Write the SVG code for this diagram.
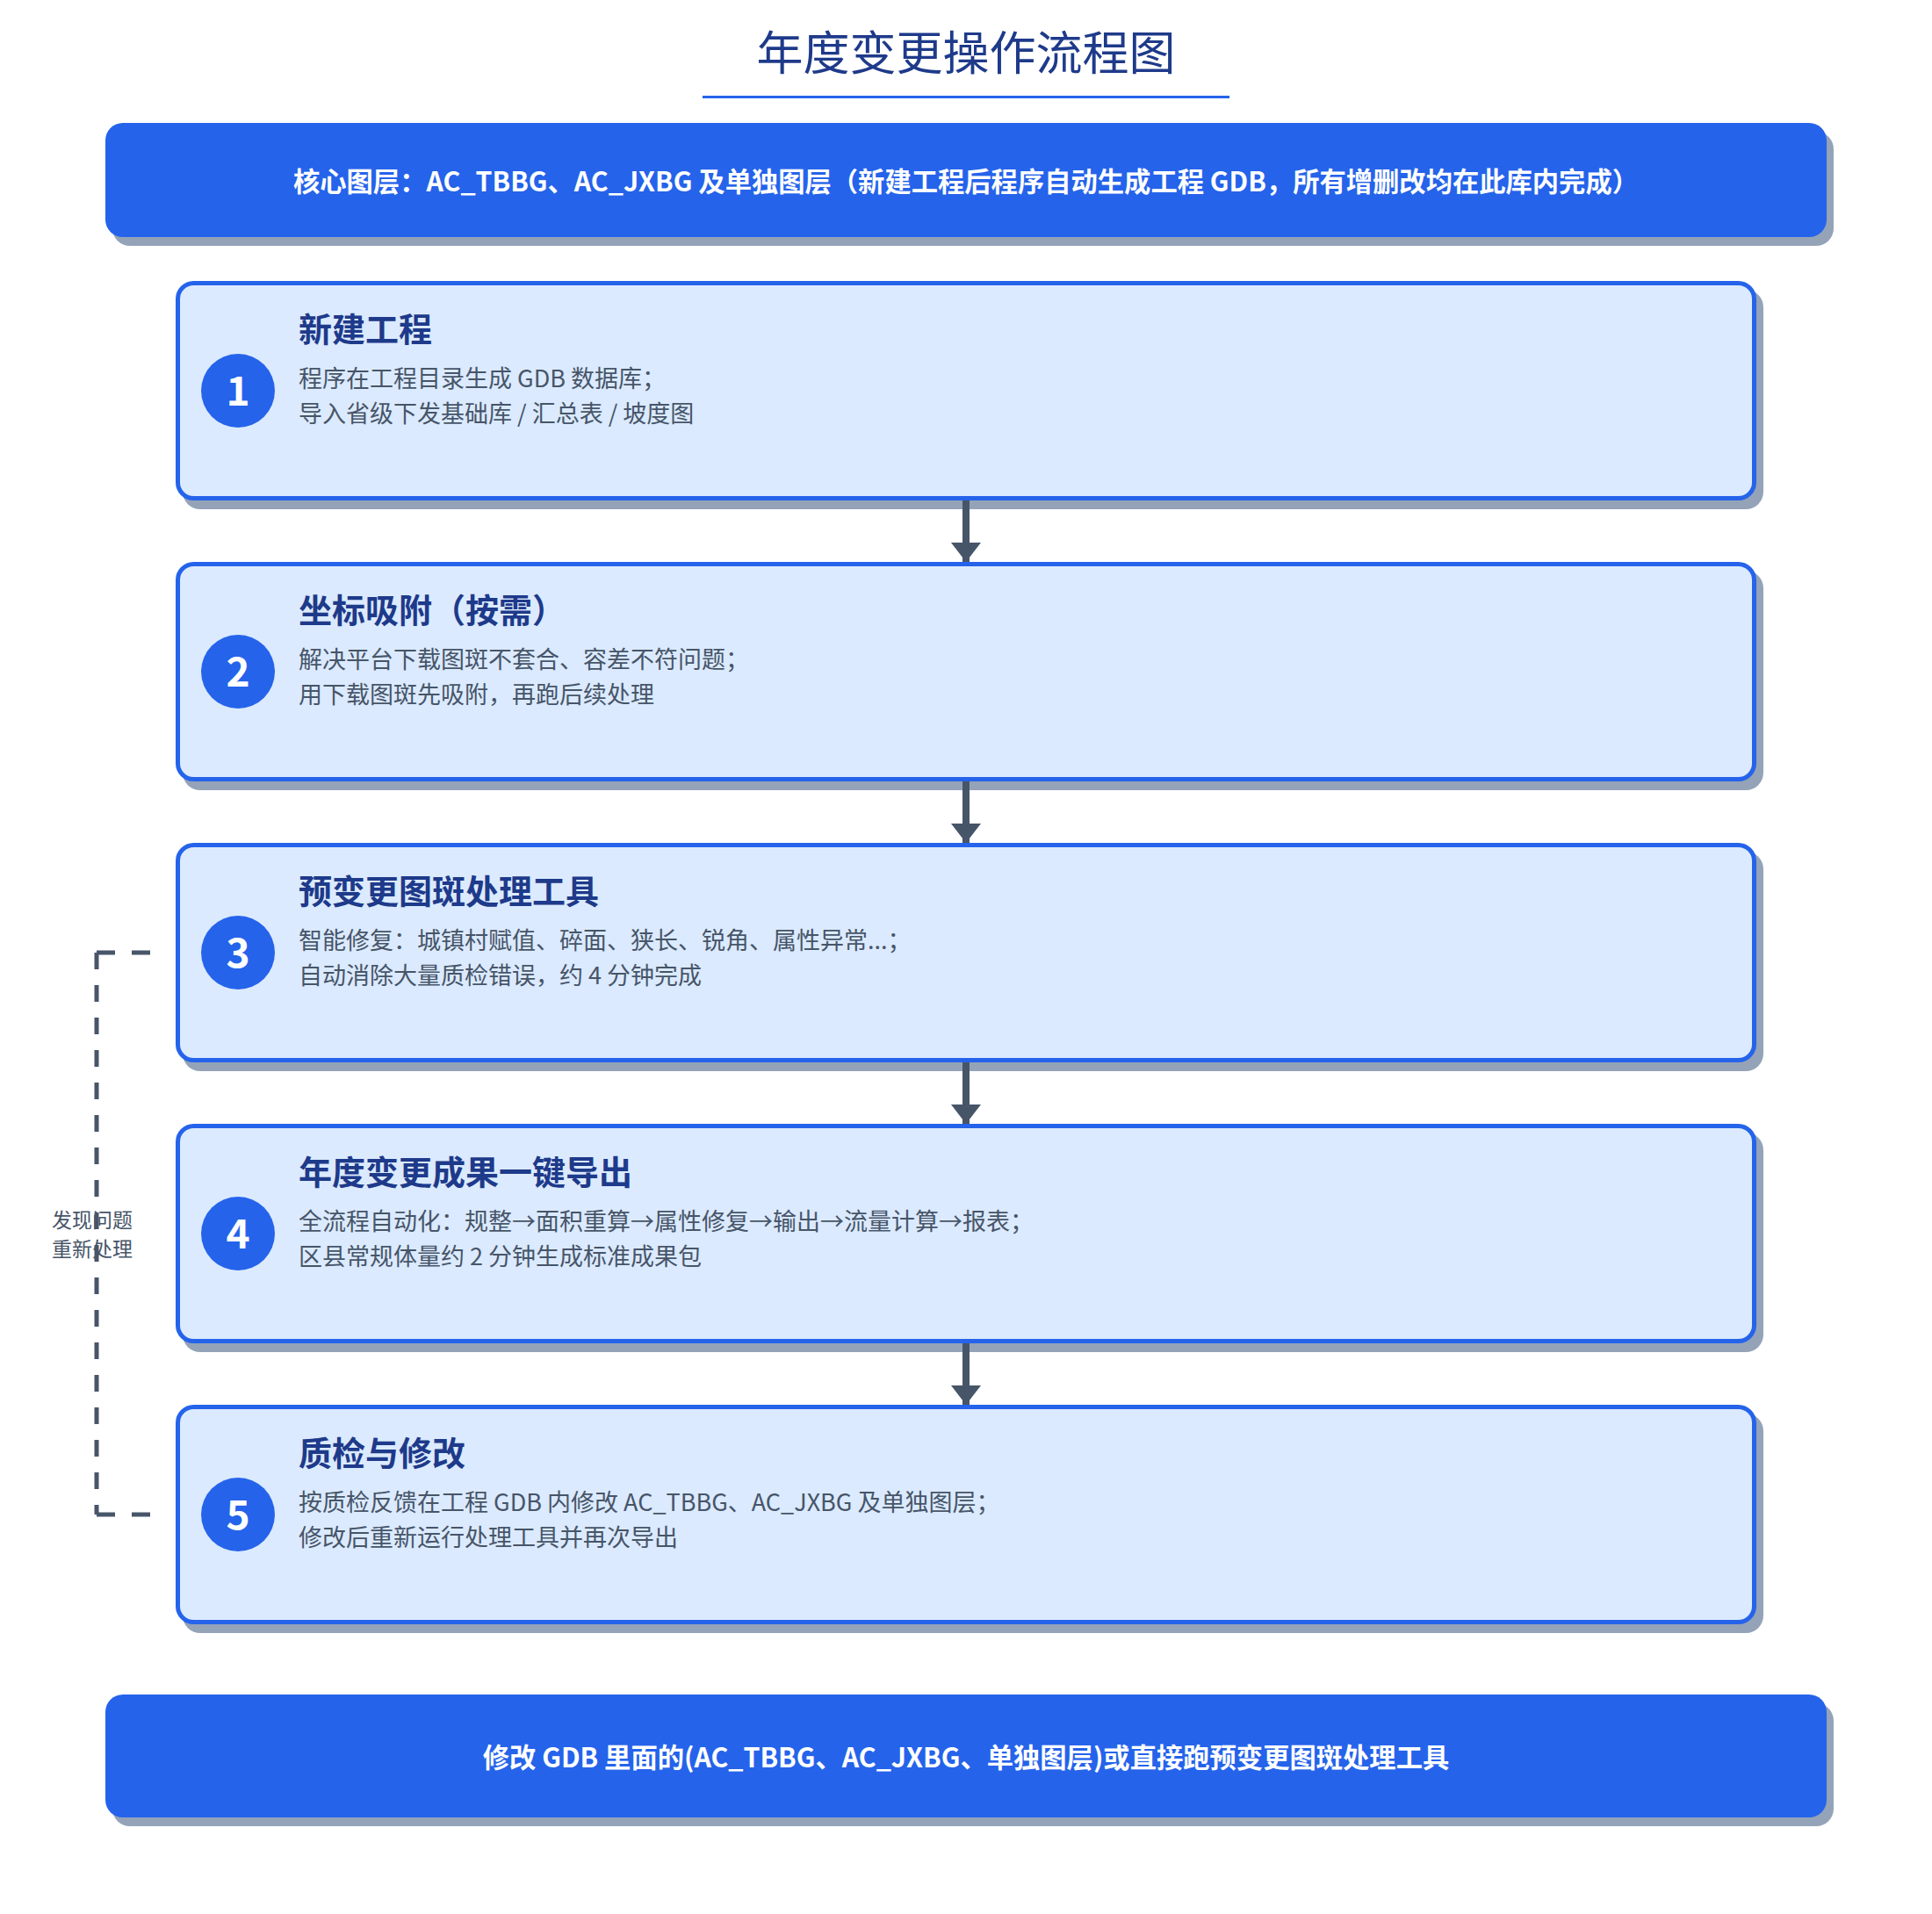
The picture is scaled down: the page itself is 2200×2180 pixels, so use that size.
<svg xmlns="http://www.w3.org/2000/svg" width="2200" height="2180" viewBox="0 0 2200 2180">
  <style>
    text { font-family: "Noto Sans CJK SC", "Noto Sans", sans-serif; }
    .title { font-size: 53px; fill: #1e3a8a; text-anchor: middle; }
    .banner { fill: #2563eb; }
    .shadow { fill: #94a3b8; }
    .banner-text { font-size: 30.3px; font-weight: 700; fill: #ffffff; text-anchor: middle; }
    .card { fill: #dbeafe; stroke: #2563eb; stroke-width: 5; }
    .badge { fill: #2563eb; }
    .badge-num { font-size: 46px; font-weight: 700; fill: #ffffff; text-anchor: middle; }
    .card-title { font-size: 38px; font-weight: 700; fill: #1e3a8a; }
    .card-body { font-size: 27px; fill: #475569; }
    .flow { stroke: #475569; stroke-width: 8; fill: none; marker-end: url(#arrow); }
    .loop { stroke: #475569; stroke-width: 5; fill: none; stroke-dasharray: 19 18; }
    .loop-h { stroke-dasharray: 21 19; }
    .loop-label { font-size: 23px; fill: #475569; text-anchor: middle; }
  </style>
  <defs>
    <marker id="arrow" markerUnits="userSpaceOnUse" markerWidth="22" markerHeight="34" refX="22" refY="17" orient="auto">
      <path d="M0,0 L22,17 L0,34 z" fill="#475569"/>
    </marker>
  </defs>
  <rect width="2200" height="2180" fill="#ffffff"/>

  <g id="title">
    <text class="title" x="1100" y="80">年度变更操作流程图</text>
    <rect x="800" y="109" width="600" height="3" fill="#2563eb"/>
  </g>

  <g id="header">
    <rect class="shadow" x="128" y="150" width="1960" height="130" rx="20"/>
    <rect class="banner" x="120" y="140" width="1960" height="130" rx="20"/>
    <text class="banner-text" x="1100" y="218">核心图层：AC_TBBG、AC_JXBG 及单独图层（新建工程后程序自动生成工程 GDB，所有增删改均在此库内完成）</text>
  </g>

  <g id="step1">
    <rect class="shadow" x="208" y="330" width="1800" height="250" rx="20"/>
    <rect class="card" x="202.5" y="322.5" width="1795" height="245" rx="18"/>
    <circle class="badge" cx="271" cy="445" r="42"/>
    <text class="badge-num" x="271" y="462">1</text>
    <text class="card-title" x="340" y="389">新建工程</text>
    <text class="card-body" x="340" y="441">程序在工程目录生成 GDB 数据库；</text>
    <text class="card-body" x="340" y="481">导入省级下发基础库 / 汇总表 / 坡度图</text>
  </g>

  <g id="step2">
    <rect class="shadow" x="208" y="650" width="1800" height="250" rx="20"/>
    <rect class="card" x="202.5" y="642.5" width="1795" height="245" rx="18"/>
    <circle class="badge" cx="271" cy="765" r="42"/>
    <text class="badge-num" x="271" y="782">2</text>
    <text class="card-title" x="340" y="709">坐标吸附（按需）</text>
    <text class="card-body" x="340" y="761">解决平台下载图斑不套合、容差不符问题；</text>
    <text class="card-body" x="340" y="801">用下载图斑先吸附，再跑后续处理</text>
  </g>

  <g id="step3">
    <rect class="shadow" x="208" y="970" width="1800" height="250" rx="20"/>
    <rect class="card" x="202.5" y="962.5" width="1795" height="245" rx="18"/>
    <circle class="badge" cx="271" cy="1085" r="42"/>
    <text class="badge-num" x="271" y="1102">3</text>
    <text class="card-title" x="340" y="1029">预变更图斑处理工具</text>
    <text class="card-body" x="340" y="1081">智能修复：城镇村赋值、碎面、狭长、锐角、属性异常...；</text>
    <text class="card-body" x="340" y="1121">自动消除大量质检错误，约 4 分钟完成</text>
  </g>

  <g id="step4">
    <rect class="shadow" x="208" y="1290" width="1800" height="250" rx="20"/>
    <rect class="card" x="202.5" y="1282.5" width="1795" height="245" rx="18"/>
    <circle class="badge" cx="271" cy="1405" r="42"/>
    <text class="badge-num" x="271" y="1422">4</text>
    <text class="card-title" x="340" y="1349">年度变更成果一键导出</text>
    <text class="card-body" x="340" y="1401">全流程自动化：规整→面积重算→属性修复→输出→流量计算→报表；</text>
    <text class="card-body" x="340" y="1441">区县常规体量约 2 分钟生成标准成果包</text>
  </g>

  <g id="step5">
    <rect class="shadow" x="208" y="1610" width="1800" height="250" rx="20"/>
    <rect class="card" x="202.5" y="1602.5" width="1795" height="245" rx="18"/>
    <circle class="badge" cx="271" cy="1725" r="42"/>
    <text class="badge-num" x="271" y="1742">5</text>
    <text class="card-title" x="340" y="1669">质检与修改</text>
    <text class="card-body" x="340" y="1721">按质检反馈在工程 GDB 内修改 AC_TBBG、AC_JXBG 及单独图层；</text>
    <text class="card-body" x="340" y="1761">修改后重新运行处理工具并再次导出</text>
  </g>

  <g id="footer">
    <rect class="shadow" x="128" y="1940" width="1960" height="140" rx="20"/>
    <rect class="banner" x="120" y="1930" width="1960" height="140" rx="20"/>
    <text class="banner-text" x="1100" y="2013">修改 GDB 里面的(AC_TBBG、AC_JXBG、单独图层)或直接跑预变更图斑处理工具</text>
  </g>

  <g id="connectors">
    <line class="flow" x1="1100" y1="570" x2="1100" y2="640"/>
    <line class="flow" x1="1100" y1="890" x2="1100" y2="960"/>
    <line class="flow" x1="1100" y1="1210" x2="1100" y2="1280"/>
    <line class="flow" x1="1100" y1="1530" x2="1100" y2="1600"/>
    <text class="loop-label" x="105" y="1398">发现问题</text>
    <text class="loop-label" x="105" y="1431">重新处理</text>
    <line class="loop loop-h" x1="171" y1="1085" x2="110" y2="1085"/>
    <line class="loop" x1="110" y1="1085" x2="110" y2="1725"/>
    <line class="loop loop-h" x1="171" y1="1725" x2="110" y2="1725"/>
  </g>
</svg>
